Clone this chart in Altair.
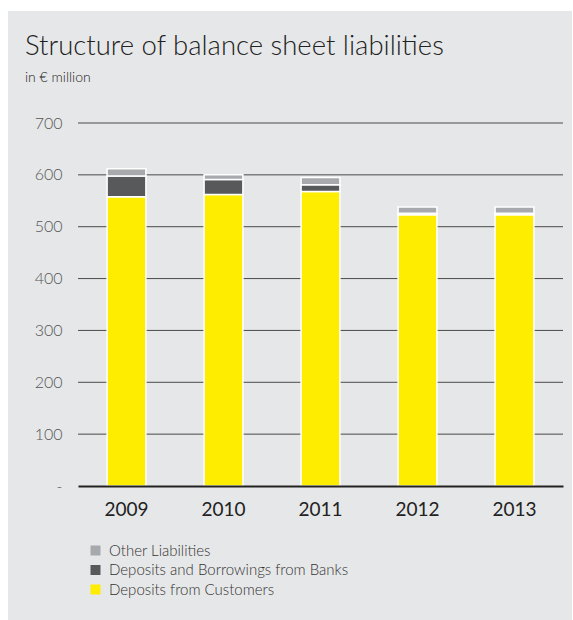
import altair as alt
import pandas as pd

years = ["2009", "2010", "2011", "2012", "2013"]
customers = [558, 562, 568, 523, 523]
banks = [40, 29, 13, 3, 3]
other = [14, 9, 14, 12, 12]

series = ["Other Liabilities", "Deposits and Borrowings from Banks", "Deposits from Customers"]
colors = ["#a7a9ac", "#58595b", "#ffed00"]
grid_values = [100, 200, 300, 400, 500, 600, 700]
tick_values = [0, 100, 200, 300, 400, 500, 600, 700]
title_text = "Structure of balance sheet liabilities"
subtitle_text = "in € million"

rows = []
for i, y in enumerate(years):
    rows.append({"year": y, "series": "Deposits from Customers", "value": customers[i], "ord": 0})
    rows.append({"year": y, "series": "Deposits and Borrowings from Banks", "value": banks[i], "ord": 1})
    rows.append({"year": y, "series": "Other Liabilities", "value": other[i], "ord": 2})
df = pd.DataFrame(rows)

FONT = "Lato"
one = pd.DataFrame({"a": [0]})

bg = alt.Chart(one).mark_rect(color="#e6e7e8").encode(
    x=alt.value(-70), x2=alt.value(494), y=alt.value(-112), y2=alt.value(497)
)

yscale = alt.Scale(domain=[0, 700], nice=False)
yaxis = alt.Axis(title=None, values=tick_values,
                 labelExpr="datum.value == 0 ? '-' : datum.label",
                 labelFont=FONT, labelFontSize=16, labelFontWeight=300, labelColor="#555555",
                 labelPadding=16, ticks=False, domain=False,
                 grid=False, zindex=1)

grid = alt.Chart(pd.DataFrame({"v": grid_values})).mark_rule(color="#4a4a4a", strokeWidth=1).encode(
    y=alt.Y("v:Q", scale=yscale, axis=yaxis),
    x=alt.value(0), x2=alt.value(485),
)

bars = alt.Chart(df).mark_bar(stroke="white", strokeWidth=1.5).encode(
    x=alt.X("year:N", sort=years,
            scale=alt.Scale(paddingInner=0.6, paddingOuter=0.3),
            axis=alt.Axis(title=None, labelAngle=0, labelFont=FONT, labelFontSize=19,
                          labelColor="#222222", labelPadding=14, ticks=False,
                          domainColor="#222222", domainWidth=2, grid=False, zindex=1)),
    y=alt.Y("value:Q", stack="zero", scale=yscale, axis=yaxis),
    color=alt.Color("series:N", sort=series,
                    scale=alt.Scale(domain=series, range=colors),
                    legend=alt.Legend(title=None, orient="none", legendX=10, legendY=420,
                                      symbolType="square", symbolSize=100, symbolStrokeWidth=0,
                                      labelFont=FONT, labelFontSize=15, labelFontWeight=300,
                                      labelColor="#333333",
                                      labelLimit=0, rowPadding=3.5, labelOffset=6)),
    order=alt.Order("ord:Q", sort="ascending"),
)

title = alt.Chart(one).mark_text(
    text=title_text, font=FONT, fontSize=27.5, fontWeight=300, color="#222222",
    align="left", baseline="alphabetic"
).encode(x=alt.value(-53), y=alt.value(-68))

subtitle = alt.Chart(one).mark_text(
    text=subtitle_text, font=FONT, fontSize=14, fontWeight=300, color="#222222",
    align="left", baseline="alphabetic"
).encode(x=alt.value(-53), y=alt.value(-41.5))

chart = alt.layer(bg, grid, bars, title, subtitle).properties(
    width=485, height=363,
    padding={"left": 78, "top": 123, "right": 10, "bottom": 134},
    autosize=alt.AutoSizeParams(type="none"),
    background="white",
).configure_view(stroke=None)

chart.save("out.html", embed_options={"renderer": "svg", "actions": False})
